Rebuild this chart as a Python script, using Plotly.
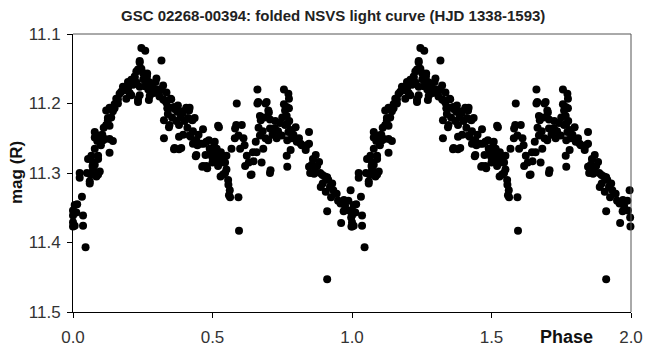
import plotly.graph_objects as go

# Folded NSVS photometry of GSC 02268-00394, one cycle (phase 0-1)
phase = [
    0.000, 0.000, 0.000, 0.000, 0.006, 0.006, 0.012, 0.024, 0.024, 0.032,
    0.036, 0.036, 0.045, 0.054, 0.060, 0.060, 0.063, 0.066, 0.072, 0.072,
    0.078, 0.078, 0.078, 0.078, 0.084, 0.084, 0.087, 0.090, 0.090, 0.090,
    0.096, 0.096, 0.108, 0.114, 0.119, 0.119, 0.125, 0.125, 0.131, 0.131,
    0.131, 0.131, 0.137, 0.143, 0.143, 0.149, 0.149, 0.155, 0.161, 0.161,
    0.167, 0.173, 0.179, 0.185, 0.191, 0.191, 0.197, 0.197, 0.203, 0.209,
    0.209, 0.215, 0.215, 0.221, 0.221, 0.227, 0.233, 0.233, 0.233, 0.239,
    0.239, 0.239, 0.239, 0.245, 0.251, 0.259, 0.263, 0.265, 0.266, 0.272,
    0.272, 0.275, 0.296, 0.299, 0.314, 0.317, 0.323, 0.323, 0.326, 0.326,
    0.326, 0.335, 0.335, 0.338, 0.344, 0.346, 0.346, 0.350, 0.352, 0.362,
    0.362, 0.364, 0.364, 0.374, 0.376, 0.380, 0.380, 0.380, 0.388, 0.392,
    0.394, 0.406, 0.412, 0.416, 0.418, 0.418, 0.422, 0.424, 0.428, 0.430,
    0.436, 0.440, 0.442, 0.442, 0.446, 0.460, 0.463, 0.466, 0.466, 0.469,
    0.475, 0.478, 0.478, 0.481, 0.487, 0.496, 0.499, 0.505, 0.508, 0.514,
    0.520, 0.523, 0.526, 0.527, 0.529, 0.538, 0.538, 0.539, 0.545, 0.550,
    0.556, 0.557, 0.559, 0.562, 0.563, 0.568, 0.580, 0.581, 0.585, 0.587,
    0.593, 0.593, 0.595, 0.599, 0.605, 0.611, 0.617, 0.623, 0.637, 0.640,
    0.647, 0.658, 0.661, 0.661, 0.664, 0.670, 0.670, 0.673, 0.676, 0.682,
    0.690, 0.694, 0.700, 0.700, 0.702, 0.706, 0.706, 0.706, 0.708, 0.720,
    0.724, 0.730, 0.742, 0.748, 0.756, 0.756, 0.760, 0.766, 0.766, 0.766,
    0.768, 0.768, 0.768, 0.772, 0.772, 0.774, 0.774, 0.780, 0.780, 0.784,
    0.798, 0.802, 0.816, 0.820, 0.834, 0.838, 0.846, 0.846, 0.846, 0.850,
    0.856, 0.864, 0.868, 0.870, 0.882, 0.886, 0.888, 0.894, 0.903, 0.906,
    0.911, 0.911, 0.911, 0.921, 0.929, 0.933, 0.941, 0.945, 0.959, 0.961,
    0.963, 0.971, 0.975, 0.987, 0.989, 0.995, 0.997, 0.998,
    0.228, 0.245, 0.252, 0.258, 0.270, 0.285, 0.290, 0.305, 0.310, 0.340,
    0.355, 0.370, 0.385, 0.400, 0.410, 0.395, 0.430, 0.450, 0.490, 0.500,
    0.510, 0.520, 0.515, 0.530, 0.545, 0.550, 0.615, 0.630, 0.645, 0.655,
    0.665, 0.680, 0.685, 0.690, 0.715, 0.725, 0.735, 0.750, 0.760, 0.775,
    0.790, 0.810, 0.860, 0.875, 0.895, 0.915, 0.925, 0.950, 0.970, 0.015,
    0.050, 0.070, 0.100, 0.105, 0.110,
]
mag = [
    11.377, 11.354, 11.361, 11.371, 11.346, 11.376, 11.357, 11.300, 11.307, 11.334,
    11.361, 11.376, 11.407, 11.280, 11.312, 11.315, 11.302, 11.275, 11.285, 11.295,
    11.288, 11.241, 11.249, 11.265, 11.305, 11.246, 11.254, 11.280, 11.302, 11.275,
    11.298, 11.246, 11.253, 11.251, 11.210, 11.231, 11.224, 11.221, 11.232, 11.251,
    11.271, 11.206, 11.220, 11.254, 11.211, 11.207, 11.201, 11.193, 11.200, 11.194,
    11.186, 11.183, 11.176, 11.178, 11.193, 11.181, 11.169, 11.178, 11.185, 11.188,
    11.166, 11.173, 11.166, 11.163, 11.161, 11.154, 11.198, 11.151, 11.194, 11.141,
    11.188, 11.176, 11.139, 11.120, 11.156, 11.124, 11.169, 11.161, 11.157, 11.169,
    11.195, 11.189, 11.169, 11.164, 11.181, 11.138, 11.174, 11.194, 11.195, 11.224,
    11.250, 11.184, 11.199, 11.207, 11.234, 11.206, 11.231, 11.193, 11.194, 11.205,
    11.266, 11.208, 11.264, 11.212, 11.203, 11.231, 11.248, 11.266, 11.264, 11.214,
    11.211, 11.206, 11.221, 11.210, 11.206, 11.246, 11.248, 11.223, 11.224, 11.258,
    11.221, 11.276, 11.253, 11.274, 11.260, 11.258, 11.291, 11.237, 11.290, 11.258,
    11.274, 11.255, 11.290, 11.293, 11.253, 11.273, 11.277, 11.262, 11.255, 11.278,
    11.232, 11.234, 11.285, 11.280, 11.305, 11.278, 11.302, 11.285, 11.300, 11.295,
    11.310, 11.317, 11.332, 11.325, 11.335, 11.265, 11.250, 11.236, 11.231, 11.200,
    11.335, 11.246, 11.383, 11.265, 11.231, 11.250, 11.290, 11.275, 11.303, 11.302,
    11.283, 11.270, 11.180, 11.200, 11.198, 11.218, 11.246, 11.224, 11.285, 11.265,
    11.200, 11.198, 11.210, 11.253, 11.213, 11.223, 11.236, 11.300, 11.296, 11.236,
    11.236, 11.250, 11.228, 11.246, 11.180, 11.201, 11.231, 11.205, 11.218, 11.275,
    11.229, 11.253, 11.291, 11.186, 11.241, 11.193, 11.207, 11.238, 11.267, 11.250,
    11.234, 11.255, 11.258, 11.260, 11.267, 11.260, 11.241, 11.258, 11.291, 11.300,
    11.288, 11.301, 11.292, 11.274, 11.284, 11.300, 11.320, 11.303, 11.305, 11.327,
    11.306, 11.355, 11.453, 11.320, 11.315, 11.325, 11.330, 11.330, 11.344, 11.372,
    11.342, 11.339, 11.347, 11.340, 11.354, 11.325, 11.364, 11.377,
    11.170, 11.150, 11.165, 11.175, 11.180, 11.175, 11.185, 11.180, 11.190, 11.215,
    11.220, 11.225, 11.220, 11.225, 11.235, 11.245, 11.240, 11.245, 11.265, 11.285,
    11.270, 11.290, 11.265, 11.270, 11.285, 11.275, 11.260, 11.285, 11.270, 11.255,
    11.235, 11.240, 11.220, 11.250, 11.245, 11.225, 11.240, 11.220, 11.210, 11.225,
    11.245, 11.250, 11.280, 11.290, 11.315, 11.310, 11.335, 11.340, 11.355, 11.345,
    11.300, 11.290, 11.260, 11.245, 11.235,
]

# The cycle is shown twice, over phase 0-2
x_vals = phase + [p + 1.0 for p in phase]
y_vals = mag + mag

x_ticks = [0.0, 0.5, 1.0, 1.5, 2.0]
y_ticks = [11.1, 11.2, 11.3, 11.4, 11.5]

FONT = "Liberation Sans, Arial, sans-serif"

fig = go.Figure()
fig.add_trace(go.Scatter(
    x=x_vals, y=y_vals, mode="markers",
    marker=dict(symbol="circle", size=8, color="black", line=dict(width=0)),
    cliponaxis=False, showlegend=False, hoverinfo="x+y",
))

axis_common = dict(
    showgrid=False, zeroline=False, showline=True, linecolor="black", linewidth=1,
    ticks="outside", ticklen=5, tickcolor="black", tickwidth=1, automargin=False,
    tickfont=dict(family=FONT, size=17, color="#333333"),
)

fig.update_xaxes(range=[0, 2], tickvals=x_ticks, ticklabelstandoff=5,
                 ticktext=[f"{v:.1f}" for v in x_ticks], **axis_common)
fig.update_yaxes(range=[11.5, 11.1], tickvals=y_ticks, ticklabelstandoff=3,
                 ticktext=[f"{v:.1f}" for v in y_ticks], **axis_common)

# Plot-area frame on the top and right sides
fig.add_shape(type="line", xref="x domain", yref="y domain",
              x0=0, x1=1, y0=1, y1=1, line=dict(color="#555555", width=1))
fig.add_shape(type="line", xref="x domain", yref="y domain",
              x0=1, x1=1, y0=0, y1=1, line=dict(color="#555555", width=1))

fig.add_annotation(text="<b>GSC 02268-00394: folded NSVS light curve (HJD 1338-1593)</b>",
                   xref="paper", yref="paper", x=0.466, y=1.0, yshift=19,
                   xanchor="center", yanchor="middle", showarrow=False,
                   font=dict(family=FONT, size=15, color="#222222"))
fig.add_annotation(text="<b>Phase</b>", xref="x", yref="paper", x=1.77, y=0,
                   yshift=-25, xanchor="center", yanchor="middle", showarrow=False,
                   font=dict(family=FONT, size=18, color="#111111"))
fig.add_annotation(text="<b>mag (R)</b>", xref="paper", yref="paper", x=0, y=0.5,
                   xshift=-57, textangle=-90, xanchor="center", yanchor="middle",
                   showarrow=False, font=dict(family=FONT, size=17, color="#111111"))

fig.update_layout(
    width=645, height=349,
    margin=dict(l=73, r=14, t=34, b=37),
    paper_bgcolor="white", plot_bgcolor="white",
)

fig.write_html("out.html")
